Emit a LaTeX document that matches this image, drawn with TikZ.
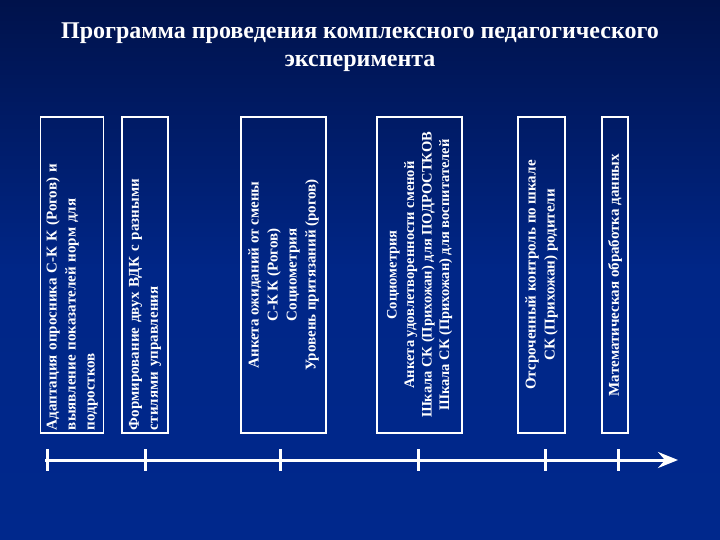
\documentclass[tikz,border=0pt]{standalone}
\usepackage{fontspec}
\setmainfont{Liberation Serif}
\usetikzlibrary{arrows.meta}
\begin{document}
\begin{tikzpicture}[x=1pt,y=-1pt,
  box/.style={draw=white,line width=1.6pt,rotate=90,text=white,font=\bfseries\fontsize{15}{19}\selectfont,inner sep=2pt},
  tl/.style={white,line width=3pt}]
\shade[top color={rgb,255:red,0;green,18;blue,75},bottom color={rgb,255:red,0;green,40;blue,140},middle color={rgb,255:red,0;green,38;blue,135}] (0,0) rectangle (720,540);
\useasboundingbox (0,0) rectangle (720,540);
\node[text=white,font=\bfseries\fontsize{24}{28}\selectfont,align=center] (title) at (360,47) {Программа проведения комплексного педагогического\\эксперимента};
\node[box,minimum width=316pt,minimum height=63pt,text width=310pt,align=left] (b1) at (72,275) {Адаптация опросника С-К К (Рогов) и\\выявление показателей норм для\\подростков};
\node[box,minimum width=316pt,minimum height=46pt,text width=310pt,align=left] (b2) at (145,275) {Формирование двух ВДК с разными\\стилями управления};
\node[box,minimum width=316pt,minimum height=85pt,align=center] (b3) at (283.5,275) {Анкета ожиданий от смены\\С-К К (Рогов)\\Социометрия\\Уровень притязаний (рогов)};
\node[box,minimum width=316pt,minimum height=85pt,align=center,font=\bfseries\fontsize{14.5}{17.5}\selectfont,inner sep=0pt] (b4) at (419.5,275) {Социометрия\\Анкета удовлетворенности сменой\\Шкала СК (Прихожан) для ПОДРОСТКОВ\\Шкала СК (Прихожан) для воспитателей};
\node[box,minimum width=316pt,minimum height=47pt,align=center] (b5) at (541.5,275) {Отсроченный контроль по шкале\\СК (Прихожан) родители};
\node[box,minimum width=316pt,minimum height=26pt,align=center,inner sep=1pt] (b6) at (615,275) {Математическая обработка данных};
\coordinate (s) at (45,460);
\coordinate (e) at (678,460);
\draw[tl,-{Stealth[length=20pt,width=16pt,inset=7pt]}] (s) -- (e);
\foreach \x in {47,145,280,418,545,618}
  \draw[tl] (\x,449) -- (\x,471);
\end{tikzpicture}
\end{document}
